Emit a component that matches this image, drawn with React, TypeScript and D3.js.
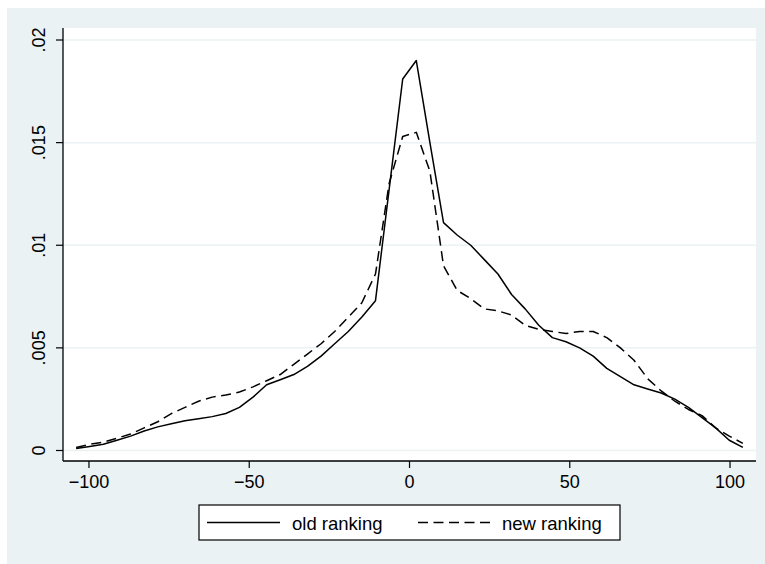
import React from 'react'
import * as d3 from 'd3'

// kernel density evaluation points (50 points)
const gridX = [
  -104.0, -99.76, -95.51, -91.27, -87.02, -82.78, -78.53, -74.29, -70.04, -65.8,
  -61.55, -57.31, -53.06, -48.82, -44.57, -40.33, -36.08, -31.84, -27.59, -23.35,
  -19.1, -14.86, -10.61, -6.37, -2.12, 2.12, 6.37, 10.61, 14.86, 19.1,
  23.35, 27.59, 31.84, 36.08, 40.33, 44.57, 48.82, 53.06, 57.31, 61.55,
  65.8, 70.04, 74.29, 78.53, 82.78, 87.02, 91.27, 95.51, 99.76, 104.0,
]

const oldRanking = [
  0.0001, 0.0002, 0.0003, 0.0005, 0.0007, 0.00095, 0.00115, 0.0013, 0.00145, 0.00155,
  0.00165, 0.0018, 0.0021, 0.0026, 0.0032, 0.00345, 0.0037, 0.0041, 0.0046, 0.0052,
  0.0058, 0.0065, 0.0073, 0.0127, 0.0181, 0.019, 0.0150, 0.0111, 0.0105, 0.01,
  0.0093, 0.0086, 0.0076, 0.0069, 0.0061, 0.0055, 0.0053, 0.005, 0.0046, 0.004,
  0.0036, 0.0032, 0.003, 0.0028, 0.0025, 0.0021, 0.0016, 0.0011, 0.0005, 0.00015,
]

const newRanking = [
  0.00015, 0.0003, 0.0004, 0.0006, 0.0008, 0.0011, 0.0014, 0.0018, 0.0021, 0.0024,
  0.0026, 0.0027, 0.00285, 0.0031, 0.0034, 0.0037, 0.0042, 0.0047, 0.0052, 0.0058,
  0.0065, 0.0072, 0.0086, 0.013, 0.0153, 0.0155, 0.0136, 0.009, 0.0078, 0.0074,
  0.0069, 0.0068, 0.0066, 0.0061, 0.0059, 0.0058, 0.0057, 0.0058, 0.0058, 0.0055,
  0.005, 0.0044, 0.0035, 0.0029, 0.0024, 0.002, 0.0017, 0.0011, 0.0007, 0.00035,
]

const yTicks = [0, 0.005, 0.01, 0.015, 0.02]
const yTickLabels = ['0', '.005', '.01', '.015', '.02']
const xTicks = [-100, -50, 0, 50, 100]
const xTickLabels = ['\u2212100', '\u221250', '0', '50', '100']
const seriesNames = ['old ranking', 'new ranking']

const W = 765
const H = 564
const plot = { left: 63, right: 756, top: 28, bottom: 461 }
const font = '"Liberation Sans", Arial, Helvetica, sans-serif'
const bg = '#eaf2f3'
const dash = '10,5.5'

export default function App() {
  const x = d3.scaleLinear().domain([-108.1, 108.1]).range([plot.left, plot.right])
  const y = d3.scaleLinear().domain([-0.000512, 0.020585]).range([plot.bottom, plot.top])

  const line = d3
    .line<number>()
    .x((_, i) => x(gridX[i]))
    .y((d) => y(d))

  return (
    <svg
      width={W}
      height={H}
      style={{ position: 'absolute', left: 0, top: 0, background: '#fff' }}
      fontFamily={font}
    >
      <rect x={7} y={8} width={W - 7} height={H - 8} fill={bg} />
      <rect
        x={plot.left}
        y={plot.top}
        width={plot.right - plot.left}
        height={plot.bottom - plot.top}
        fill="#fff"
      />

      {/* grid */}
      {yTicks.map((t) => (
        <line
          key={'g' + t}
          x1={plot.left}
          x2={plot.right}
          y1={y(t)}
          y2={y(t)}
          stroke={bg}
          strokeWidth={1.5}
        />
      ))}

      {/* density lines */}
      <path d={line(oldRanking) ?? ''} fill="none" stroke="#000" strokeWidth={1.5} strokeLinejoin="round" />
      <path
        d={line(newRanking) ?? ''}
        fill="none"
        stroke="#000"
        strokeWidth={1.5}
        strokeDasharray={dash}
        strokeLinejoin="round"
      />

      {/* axes */}
      <line x1={plot.left} x2={plot.left} y1={plot.top} y2={plot.bottom} stroke="#000" strokeWidth={1.3} />
      <line x1={plot.left} x2={plot.right} y1={plot.bottom} y2={plot.bottom} stroke="#000" strokeWidth={1.3} />

      {yTicks.map((t, i) => (
        <g key={'y' + t}>
          <line x1={plot.left - 7} x2={plot.left} y1={y(t)} y2={y(t)} stroke="#000" strokeWidth={1.2} />
          <text
            transform={`translate(45,${y(t)}) rotate(-90)`}
            textAnchor="middle"
            fontSize={18}
            fill="#000"
          >
            {yTickLabels[i]}
          </text>
        </g>
      ))}

      {xTicks.map((t, i) => (
        <g key={'x' + t}>
          <line x1={x(t)} x2={x(t)} y1={plot.bottom} y2={plot.bottom + 7} stroke="#000" strokeWidth={1.2} />
          <text x={x(t)} y={487.5} textAnchor="middle" fontSize={18} fill="#000">
            {xTickLabels[i]}
          </text>
        </g>
      ))}

      {/* legend */}
      <g>
        <rect x={199} y={505} width={421} height={35} fill="#fff" stroke="#000" strokeWidth={1.2} />
        <line x1={207} x2={280} y1={522.5} y2={522.5} stroke="#000" strokeWidth={1.5} />
        <text x={292} y={530} fontSize={18.5} fill="#000">
          {seriesNames[0]}
        </text>
        <line x1={418} x2={490} y1={522.5} y2={522.5} stroke="#000" strokeWidth={1.5} strokeDasharray={dash} />
        <text x={502} y={530} fontSize={18.5} fill="#000">
          {seriesNames[1]}
        </text>
      </g>
    </svg>
  )
}
